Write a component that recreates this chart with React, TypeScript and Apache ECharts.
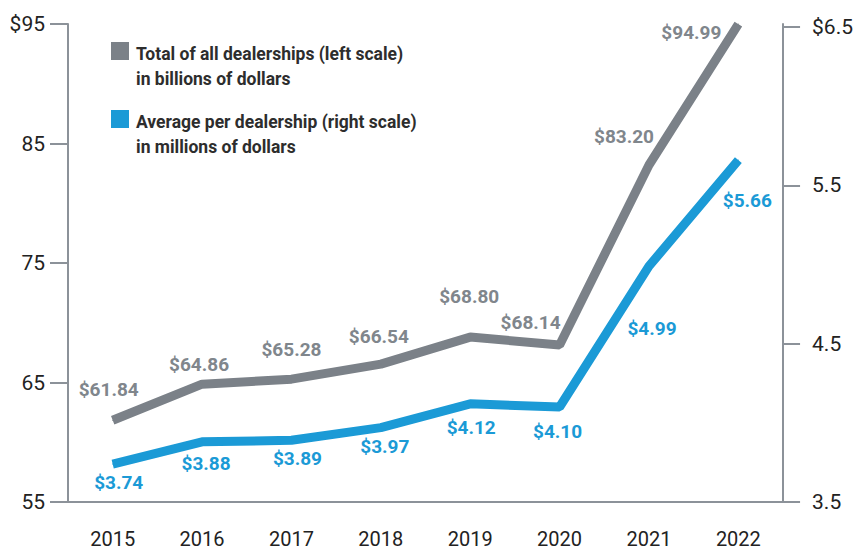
import React, { useEffect, useRef } from "react";
import * as echarts from "echarts";

const years = ["2015", "2016", "2017", "2018", "2019", "2020", "2021", "2022"];
const totalBillions = [61.84, 64.86, 65.28, 66.54, 68.8, 68.14, 83.2, 94.99];
const avgMillions = [3.74, 3.88, 3.89, 3.97, 4.12, 4.1, 4.99, 5.66];
const leftTicks = [55, 65, 75, 85, 95];
const rightTicks = [3.5, 4.5, 5.5, 6.5];
const legendTotal = ["Total of all dealerships (left scale)", "in billions of dollars"];
const legendAvg = ["Average per dealership (right scale)", "in millions of dollars"];

// label placement (styling, not data)
const totalLabelOffsets = [
  [-4, -31], [-3, -20], [0, -30], [-2, -28], [-1, -41], [-29, -22], [-25, -29], [-47, 8],
];
const avgLabelOffsets = [
  [6, 18], [4, 22], [6, 18], [4, 19], [1, 24], [-2, 24], [3, 62], [9, 40],
];

const FONT = "Roboto, 'Liberation Sans', sans-serif";
const GREY = "#7b8188";
const GREY_TXT = "#80868c";
const BLUE = "#1b9ad6";
const AXIS = "#8c9299";

export default function App() {
  const ref = useRef<HTMLDivElement>(null);
  useEffect(() => {
    if (!ref.current) return;
    const chart = echarts.init(ref.current, null, { renderer: "svg" });
    const fmt = (v: number) => "$" + v.toFixed(2);
    chart.setOption({
      animation: false,
      backgroundColor: "#ffffff",
      grid: { left: 68, right: 71, top: 24, bottom: 53 },
      xAxis: {
        type: "category",
        data: years,
        boundaryGap: true,
        axisLine: { lineStyle: { color: AXIS, width: 2 } },
        axisTick: { alignWithLabel: true, length: 15, lineStyle: { color: AXIS, width: 2 } },
        axisLabel: { fontFamily: FONT, fontSize: 20, color: "#222", margin: 27 },
      },
      yAxis: [
        {
          type: "value",
          min: 55,
          max: 95,
          position: "left",
          splitLine: { show: false },
          axisLine: { show: true, lineStyle: { color: AXIS, width: 2 } },
          axisTick: { show: true, length: 18, customValues: leftTicks, lineStyle: { color: AXIS, width: 2 } },
          axisLabel: {
            customValues: leftTicks,
            fontFamily: FONT,
            fontSize: 21,
            color: "#222",
            margin: 23,
            formatter: (v: number) => (v === 95 ? "$95" : String(v)),
          },
        },
        {
          type: "value",
          min: 3.5,
          max: 6.52,
          position: "right",
          splitLine: { show: false },
          axisLine: { show: true, lineStyle: { color: AXIS, width: 2 } },
          axisTick: { show: true, length: 17, customValues: rightTicks, lineStyle: { color: AXIS, width: 2 } },
          axisLabel: {
            customValues: rightTicks,
            fontFamily: FONT,
            fontSize: 21,
            color: "#222",
            margin: 29,
            formatter: (v: number) => (v === 6.5 ? "$6.5" : v.toFixed(1)),
          },
        },
      ],
      series: [
        {
          type: "line",
          yAxisIndex: 0,
          data: totalBillions.map((v, i) => ({
            value: v,
            label: { offset: totalLabelOffsets[i] },
          })),
          symbol: "circle",
          symbolSize: 1,
          itemStyle: { color: GREY },
          lineStyle: { color: GREY, width: 9 },
          label: {
            show: true,
            position: "inside",
            align: "center",
            verticalAlign: "middle",
            fontFamily: FONT,
            fontWeight: "bold",
            fontSize: 19,
            color: GREY_TXT,
            formatter: (p: any) => fmt(p.value),
          },
        },
        {
          type: "line",
          yAxisIndex: 1,
          data: avgMillions.map((v, i) => ({
            value: v,
            label: { offset: avgLabelOffsets[i] },
          })),
          symbol: "circle",
          symbolSize: 1,
          itemStyle: { color: BLUE },
          lineStyle: { color: BLUE, width: 9 },
          label: {
            show: true,
            position: "inside",
            align: "center",
            verticalAlign: "middle",
            fontFamily: FONT,
            fontWeight: "bold",
            fontSize: 19,
            color: BLUE,
            formatter: (p: any) => fmt(p.value),
          },
        },
      ],
      graphic: [
        { type: "rect", shape: { x: 111, y: 42, width: 18, height: 18 }, style: { fill: GREY } },
        {
          type: "text",
          x: 136,
          y: 41,
          style: {
            text: legendTotal.join("\n"),
            fontFamily: FONT,
            fontWeight: "bold",
            fontSize: 17.5,
            lineHeight: 25,
            fill: "#2d2d2d",
          },
        },
        { type: "rect", shape: { x: 111, y: 110, width: 18, height: 18 }, style: { fill: BLUE } },
        {
          type: "text",
          x: 136,
          y: 109,
          style: {
            text: legendAvg.join("\n"),
            fontFamily: FONT,
            fontWeight: "bold",
            fontSize: 17.5,
            lineHeight: 25,
            fill: "#2d2d2d",
          },
        },
      ],
    });
    return () => chart.dispose();
  }, []);
  return (
    <div
      ref={ref}
      style={{ position: "fixed", left: 0, top: 0, width: 856, height: 555, background: "#fff" }}
    />
  );
}
